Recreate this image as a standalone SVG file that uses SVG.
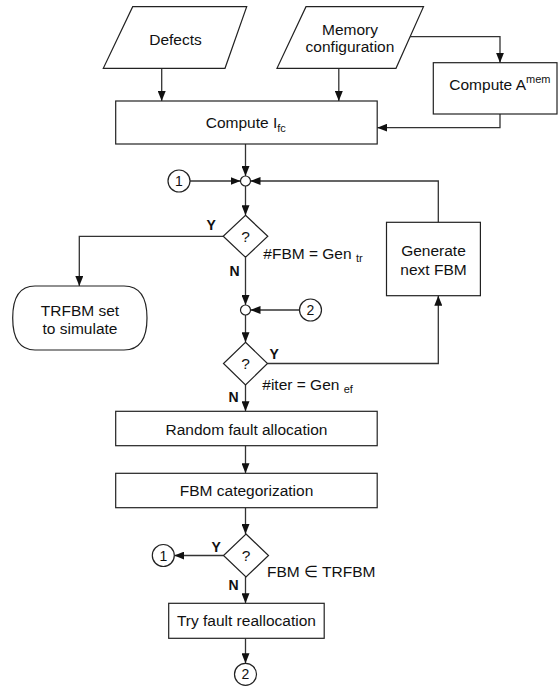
<svg xmlns="http://www.w3.org/2000/svg" width="558" height="689" viewBox="0 0 558 689">
<style>
  .box { fill: #fff; stroke: #222; stroke-width: 1.2; }
  .jn { fill: #fff; stroke: #222; stroke-width: 1.2; }
  .ln { fill: none; stroke: #333; stroke-width: 1.3; }
  text { font-family: "Liberation Sans", Arial, Helvetica, sans-serif; font-size: 15.5px; fill: #111; }
  .c { text-anchor: middle; }
  .lbl { font-weight: bold; font-size: 14px; }
  .sm { font-size: 11px; }
  .num { font-size: 14px; text-anchor: middle; }
</style>
<defs>
  <marker id="arr" markerUnits="userSpaceOnUse" markerWidth="10" markerHeight="8" viewBox="0 0 10 8" refX="10" refY="4" orient="auto">
    <path d="M0,0 L10,4 L0,8 Z" fill="#111"/>
  </marker>
</defs>

<g id="connectors">
  <path class="ln" d="M161.7,68.3 V101" marker-end="url(#arr)"/>
  <path class="ln" d="M338.8,68.3 V101" marker-end="url(#arr)"/>
  <path class="ln" d="M384.5,36.7 H500 V62.7" marker-end="url(#arr)"/>
  <path class="ln" d="M500,114 V127.7 H377.2" marker-end="url(#arr)"/>
  <path class="ln" d="M245.5,144 V176" marker-end="url(#arr)"/>
  <path class="ln" d="M190,181 H240.5" marker-end="url(#arr)"/>
  <path class="ln" d="M438.3,222.3 V181 H250.5" marker-end="url(#arr)"/>
  <path class="ln" d="M245.5,186 V215.3" marker-end="url(#arr)"/>
  <path class="ln" d="M223.2,236.3 H79.3 V286" marker-end="url(#arr)"/>
  <path class="ln" d="M245.5,257.3 V305" marker-end="url(#arr)"/>
  <path class="ln" d="M299.5,310 H250.5" marker-end="url(#arr)"/>
  <path class="ln" d="M245.5,315 V342.3" marker-end="url(#arr)"/>
  <path class="ln" d="M267.5,363.5 H438.3 V295.7" marker-end="url(#arr)"/>
  <path class="ln" d="M245.5,385 V411.3" marker-end="url(#arr)"/>
  <path class="ln" d="M245.5,445.7 V473.3" marker-end="url(#arr)"/>
  <path class="ln" d="M245.5,507.7 V534" marker-end="url(#arr)"/>
  <path class="ln" d="M223.5,555.5 H174.3" marker-end="url(#arr)"/>
  <path class="ln" d="M245.5,577 V603.3" marker-end="url(#arr)"/>
  <path class="ln" d="M245.5,638.3 V663.3" marker-end="url(#arr)"/>
</g>

<g id="defects">
  <polygon class="box" points="132.7,6.7 246.7,6.7 225,68.3 103.3,68.3"/>
  <text class="c" x="175.5" y="44.8">Defects</text>
</g>

<g id="memory-config">
  <polygon class="box" points="306,6.7 423.5,6.7 396,68.3 277,68.3"/>
  <text class="c" x="350" y="34.5">Memory</text>
  <text class="c" x="350" y="51.5">configuration</text>
</g>

<g id="compute-amem">
  <rect class="box" x="433.3" y="62.7" width="123.7" height="51.3"/>
  <text x="449.3" y="89.5">Compute A<tspan class="sm" dy="-7">mem</tspan></text>
</g>

<g id="compute-ifc">
  <rect class="box" x="115.7" y="101" width="261.5" height="43"/>
  <text x="205.7" y="128">Compute I<tspan class="sm" dy="4">fc</tspan></text>
</g>

<g id="junction1">
  <circle class="jn" cx="245.5" cy="181" r="5"/>
</g>

<g id="conn1-top">
  <circle class="jn" cx="179" cy="181" r="11"/>
  <text class="num" x="179" y="186">1</text>
</g>

<g id="decision1">
  <polygon class="box" points="245.5,215.3 267.8,236.3 245.5,257.3 223.2,236.3"/>
  <text class="c" x="245.5" y="242">?</text>
  <text class="lbl" x="206.5" y="230">Y</text>
  <text class="lbl" x="229.5" y="275.5">N</text>
  <text x="263.3" y="258.5">#FBM = Gen <tspan class="sm" dy="3">tr</tspan></text>
</g>

<g id="trfbm">
  <path class="box" d="M35,286 H124 Q147,286 147,318 Q147,350 124,350 H35 Q12.7,350 12.7,318 Q12.7,286 35,286 Z"/>
  <text class="c" x="80" y="315.5">TRFBM set</text>
  <text class="c" x="80" y="333.8">to simulate</text>
</g>

<g id="generate">
  <rect class="box" x="386.5" y="222.3" width="93.9" height="73.4"/>
  <text class="c" x="433.5" y="256">Generate</text>
  <text class="c" x="433.5" y="274.5">next FBM</text>
</g>

<g id="junction2">
  <circle class="jn" cx="245.5" cy="310" r="5"/>
</g>

<g id="conn2-mid">
  <circle class="jn" cx="310.5" cy="310" r="11"/>
  <text class="num" x="310.5" y="315">2</text>
</g>

<g id="decision2">
  <polygon class="box" points="245.5,342.3 267.5,363.5 245.5,385 223.5,363.5"/>
  <text class="c" x="245.5" y="369">?</text>
  <text class="lbl" x="269.5" y="358.7">Y</text>
  <text class="lbl" x="228.5" y="401.7">N</text>
  <text x="262.3" y="389.5">#iter = Gen <tspan class="sm" dy="3">ef</tspan></text>
</g>

<g id="random-alloc">
  <rect class="box" x="115.7" y="411.3" width="261.5" height="34.4"/>
  <text class="c" x="246.5" y="434.5">Random fault allocation</text>
</g>

<g id="fbm-cat">
  <rect class="box" x="115.7" y="473.3" width="261.5" height="34.4"/>
  <text class="c" x="246.5" y="496">FBM categorization</text>
</g>

<g id="decision3">
  <polygon class="box" points="246,534 268.5,555.5 246,577 223.5,555.5"/>
  <text class="c" x="246" y="561">?</text>
  <text class="lbl" x="211.5" y="551.7">Y</text>
  <text class="lbl" x="228.5" y="590">N</text>
  <text x="267" y="576.5">FBM ∈ TRFBM</text>
</g>

<g id="conn1-bottom">
  <circle class="jn" cx="163.3" cy="555.5" r="11"/>
  <text class="num" x="163.3" y="560.5">1</text>
</g>

<g id="try-realloc">
  <rect class="box" x="168.7" y="603.3" width="155.5" height="35"/>
  <text class="c" x="246.4" y="625.5">Try fault reallocation</text>
</g>

<g id="conn2-bottom">
  <circle class="jn" cx="245.5" cy="674.3" r="11"/>
  <text class="num" x="245.5" y="679.3">2</text>
</g>
</svg>
